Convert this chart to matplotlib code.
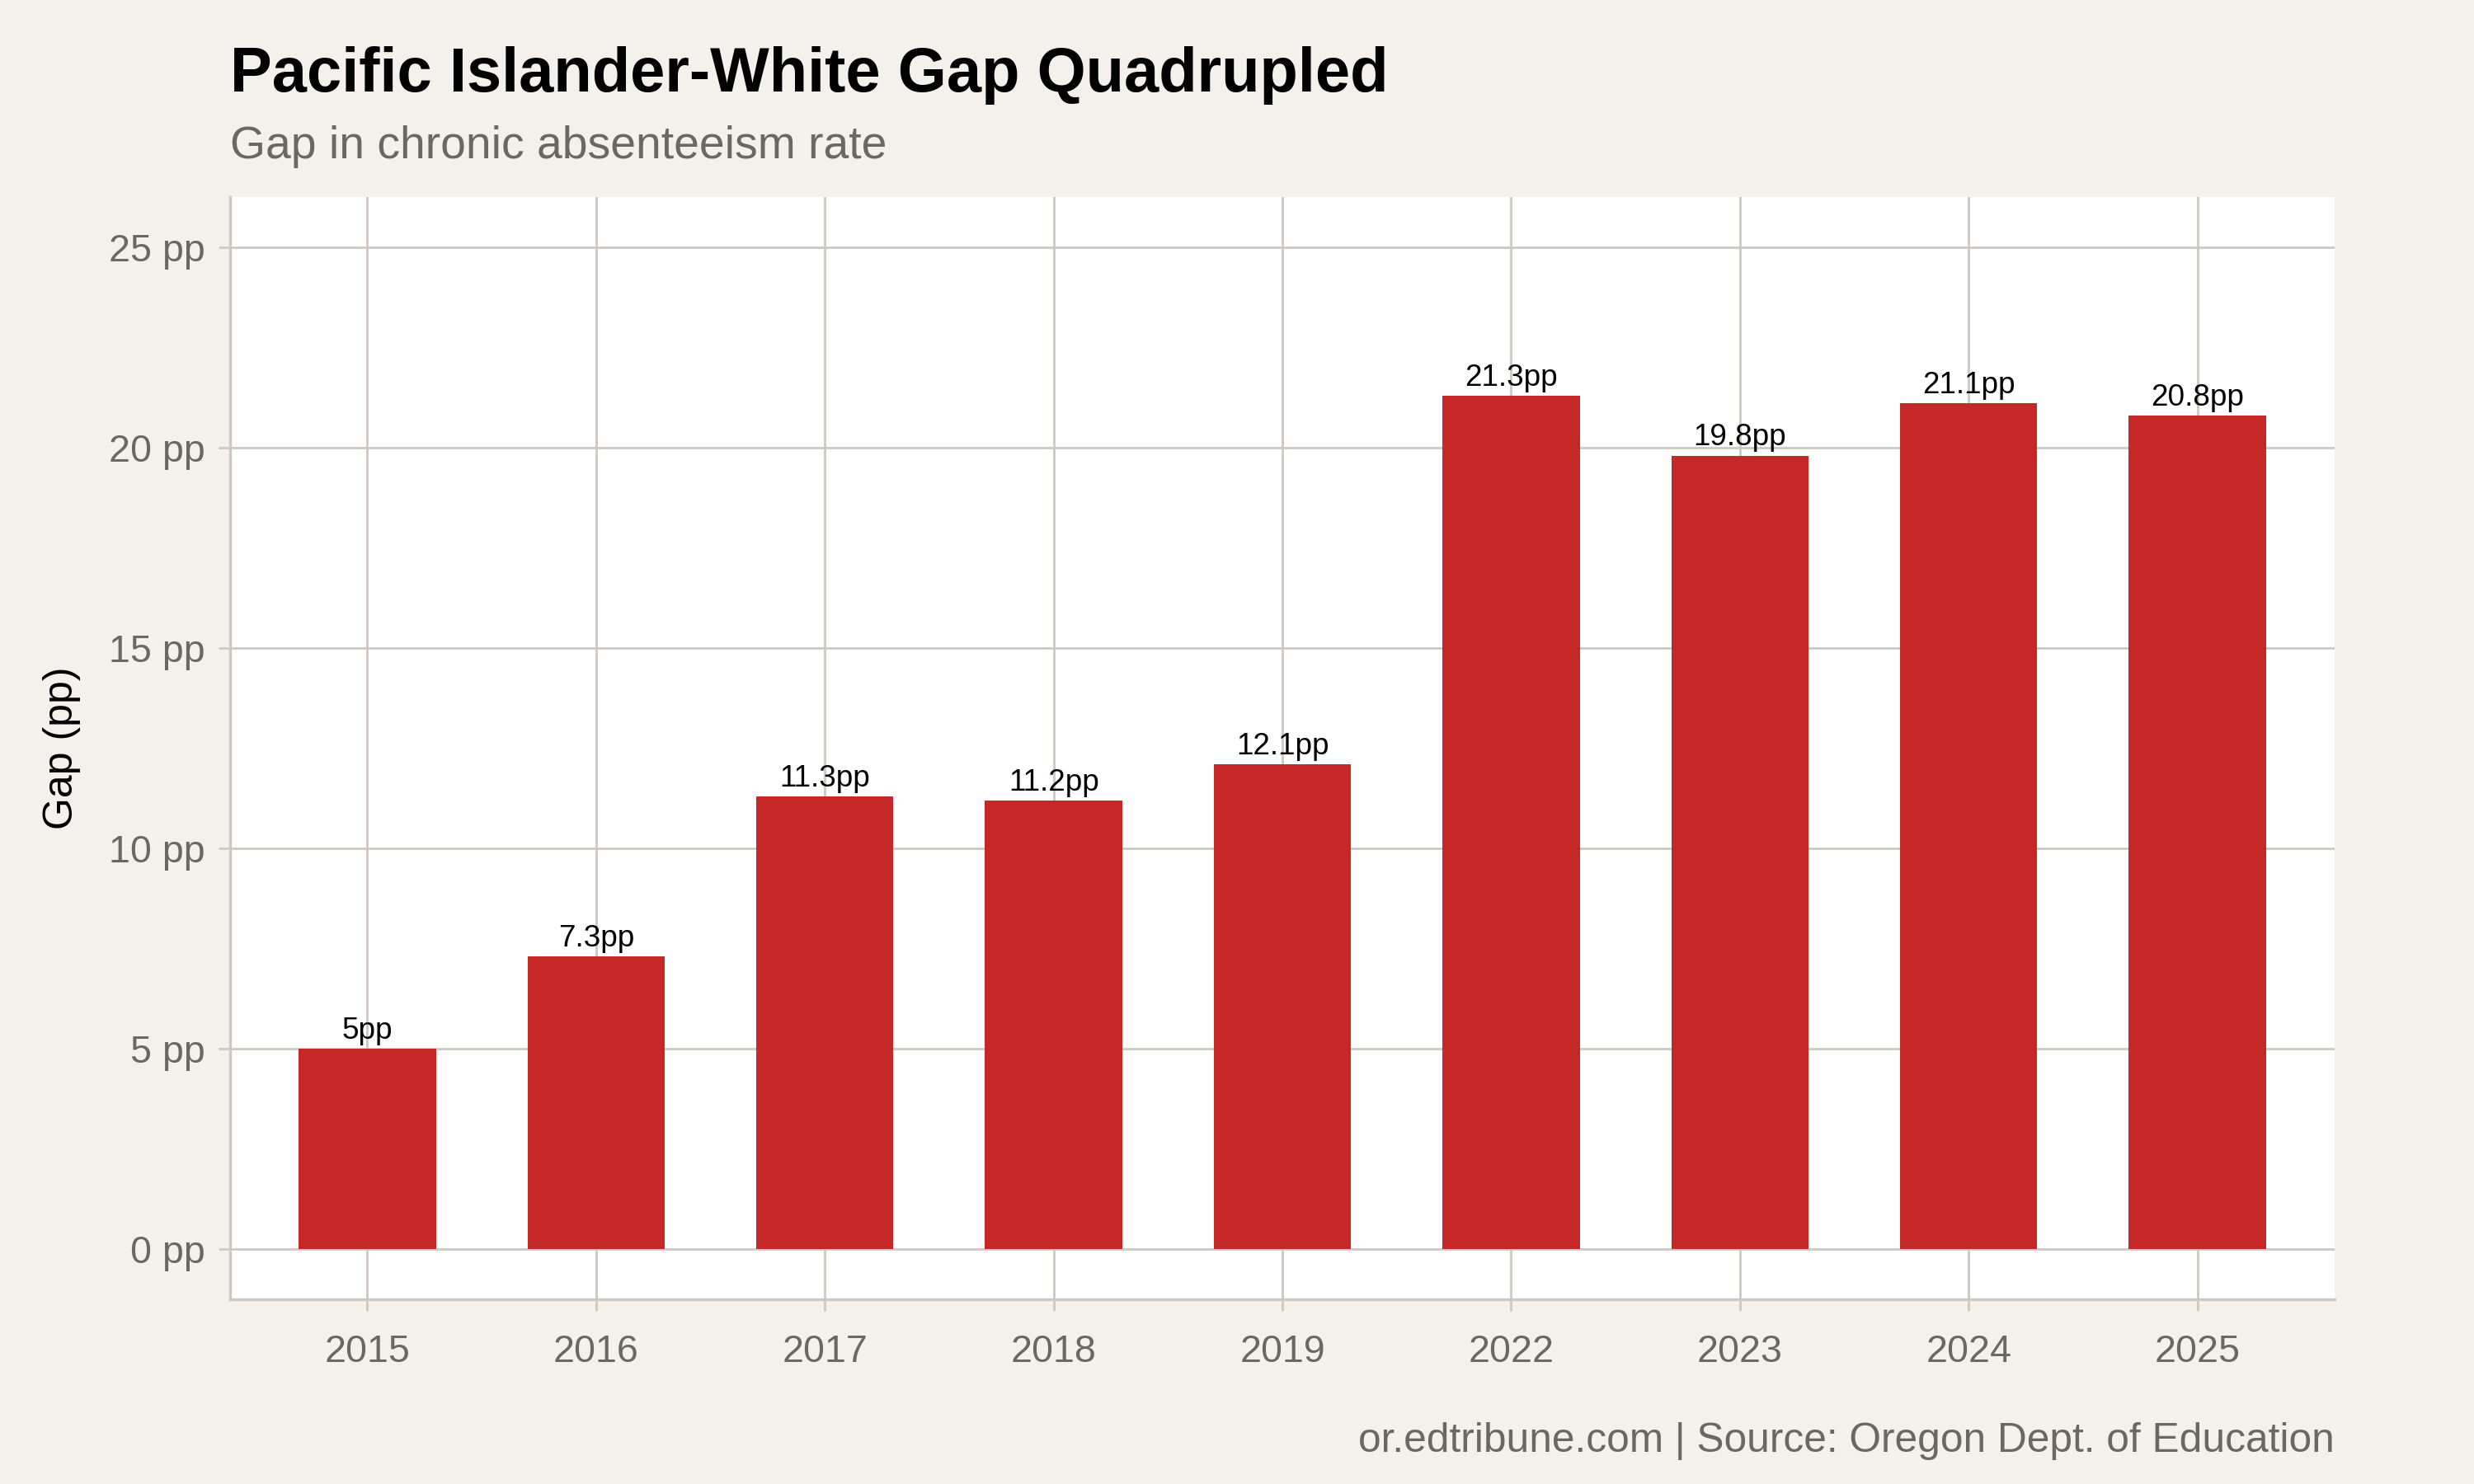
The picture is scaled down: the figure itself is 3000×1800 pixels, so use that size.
import matplotlib
matplotlib.use("Agg")
import matplotlib.pyplot as plt

years = ["2015", "2016", "2017", "2018", "2019", "2022", "2023", "2024", "2025"]
gaps = [5.0, 7.3, 11.3, 11.2, 12.1, 21.3, 19.8, 21.1, 20.8]
bar_labels = ["5pp", "7.3pp", "11.3pp", "11.2pp", "12.1pp", "21.3pp", "19.8pp", "21.1pp", "20.8pp"]
yticks = [0, 5, 10, 15, 20, 25]
ytick_labels = ["0 pp", "5 pp", "10 pp", "15 pp", "20 pp", "25 pp"]

BG = "#F4F1EC"
GRID = "#CDC8C0"
BAR = "#C62828"
GRAY = "#6B6761"

plt.rcParams['font.family'] = ['Liberation Sans', 'DejaVu Sans']

fig = plt.figure(figsize=(15, 9), dpi=200, facecolor=BG)
ax = fig.add_axes([0.093, 0.1244, 0.8507, 0.7428])
ax.set_facecolor("white")

x = list(range(len(years)))
ax.bar(x, gaps, width=0.6, color=BAR, zorder=3)
for xi, v, lab in zip(x, gaps, bar_labels):
    ax.annotate(lab, (xi, v), xytext=(0, 1.5), textcoords="offset points",
                ha="center", va="bottom", fontsize=13.3, color="black", zorder=4)

ax.set_xlim(-0.6, len(years) - 0.4)
ax.set_ylim(-1.25, 26.25)
ax.set_xticks(x)
ax.set_xticklabels(years)
ax.set_yticks(yticks)
ax.set_yticklabels(ytick_labels)

ax.grid(True, color=GRID, linewidth=1.0, zorder=0)
ax.set_axisbelow(True)
for s in ["top", "right"]:
    ax.spines[s].set_visible(False)
for s in ["left", "bottom"]:
    ax.spines[s].set_color(GRID)
    ax.spines[s].set_linewidth(1.2)

ax.tick_params(axis="both", colors=GRID, labelcolor=GRAY, labelsize=16.8, width=1.0)
ax.tick_params(axis="x", length=5, pad=10)
ax.tick_params(axis="y", length=5, pad=6)

ax.set_ylabel("Gap (pp)", fontsize=18, color="black", labelpad=12)

fig.text(0.093, 0.949, "Pacific Islander-White Gap Quadrupled", fontsize=27.3,
         fontweight="bold", color="black", ha="left", va="center")
fig.text(0.093, 0.901, "Gap in chronic absenteeism rate", fontsize=19.9,
         color=GRAY, ha="left", va="center")
fig.text(0.9437, 0.029, "or.edtribune.com | Source: Oregon Dept. of Education",
         fontsize=17.85, color=GRAY, ha="right", va="center")

fig.savefig("out.png", dpi=200, facecolor=BG)
